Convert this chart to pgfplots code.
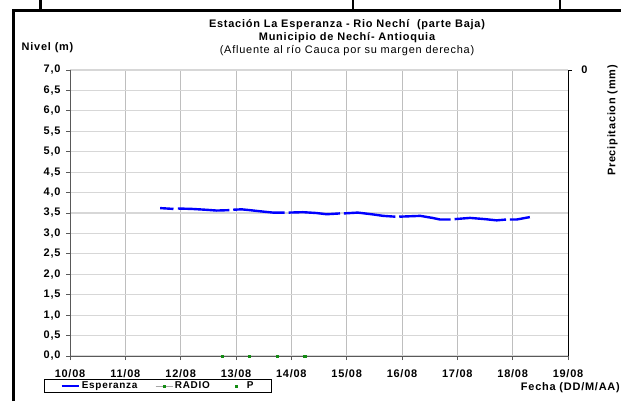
\documentclass[border=0pt]{standalone}
\usepackage{pgfplots}
\pgfplotsset{compat=1.18}
\usepackage{fontspec}
\setmainfont[LetterSpace=7]{Liberation Sans}
\definecolor{gridx}{RGB}{190,190,190}
\definecolor{gridy}{RGB}{215,215,215}
\definecolor{pgreen}{RGB}{20,140,20}
\newcommand\lbl{\fontsize{11}{12}\selectfont\bfseries}
\newcommand\lbn{\fontsize{11}{12}\selectfont}
\begin{document}
\begin{tikzpicture}[x=1bp,y=1bp]
\path[use as bounding box] (0,0) rectangle (621,401);
% outer frame
\draw[line width=3bp] (13.5,0) -- (13.5,390.5) -- (621,390.5);
\draw[line width=2.2bp] (40.5,390.5) -- (40.5,401);
\draw[line width=2.2bp] (353,390.5) -- (353,401);
\draw[line width=2.2bp] (560,390.5) -- (560,401);
% titles
\node[font=\lbl] at (347,376) {Estación La Esperanza - Rio Nechí\ \ (parte Baja)};
\node[font=\lbl] at (347,363.5) {Municipio de Nechí- Antioquia};
\node[font=\lbn] at (347,350) {(Afluente al río Cauca por su margen derecha)};
\node[font=\lbl, anchor=west, inner sep=0pt] at (21.5,353) {Nivel (m)};
\node[font=\lbl, rotate=90] at (612.5,280.5) {Precipitacion (mm)};
\node[font=\lbl, anchor=east, inner sep=0pt] at (620,13) {Fecha (DD/M/AA)};
\node[font=\lbl, inner sep=0pt] at (584.5,331) {0};

\begin{axis}[
  at={(70bp,45bp)}, anchor=south west,
  scale only axis, width=498bp, height=286bp,
  xmin=10, xmax=19, ymin=0, ymax=7,
  xtick={10,...,19},
  xticklabels={10/08,11/08,12/08,13/08,14/08,15/08,16/08,17/08,18/08,19/08},
  ytick={0,0.5,...,7},
  ticklabel style={font=\lbl},
  xticklabel style={yshift=-6bp},
  yticklabel style={xshift=-2bp, /pgf/number format/.cd, fixed, fixed zerofill, precision=1, use comma, assume math mode=true},
  axis x line*=bottom, axis y line*=left,
  axis line style={-, draw=black!65, line width=0.9bp},
  tick align=outside, major tick length=4bp,
  tick style={draw=black!65, line width=0.8bp},
  xmajorgrids, ymajorgrids,
  x grid style={gridx, line width=0.9bp},
  y grid style={gridy, line width=1.1bp},
  clip=false,
  unbounded coords=jump,
  legend columns=3,
  legend style={at={(-0.052,-0.0804)}, anchor=north west, draw=black, line width=0.8bp,
    font=\fontsize{10}{11}\selectfont\bfseries, inner xsep=16bp, inner ysep=0.5bp,
    /tikz/every even column/.append style={column sep=16bp}},
  legend cell align=left,
]
\addplot[blue, line width=2.4bp] coordinates {
 (11.63,3.62) (11.75,3.61) (11.87,3.60)
 (11.91,nan)
 (11.95,3.61) (12.2,3.60) (12.45,3.58) (12.65,3.56) (12.88,3.57)
 (12.91,nan)
 (12.95,3.58) (13.1,3.59) (13.25,3.57) (13.45,3.54) (13.67,3.51) (13.88,3.51)
 (13.91,nan)
 (13.95,3.51) (14.21,3.52) (14.45,3.50) (14.64,3.47) (14.88,3.49)
 (14.91,nan)
 (14.95,3.49) (15.2,3.51) (15.45,3.47) (15.66,3.43) (15.88,3.41)
 (15.91,nan)
 (15.95,3.41) (16.33,3.43) (16.55,3.38) (16.69,3.34) (16.88,3.34)
 (16.91,nan)
 (16.95,3.35) (17.23,3.38) (17.5,3.35) (17.71,3.32) (17.88,3.34)
 (17.91,nan)
 (17.95,3.34) (18.07,3.34) (18.31,3.40)
};
\addlegendentry{Esperanza}
\addlegendimage{gray!70, line width=0.6bp, mark=square*, mark size=1bp, mark options={draw=pgreen, fill=pgreen}}
\addlegendentry{RADIO}
\addplot[only marks, mark=square*, mark size=1.1bp, color=pgreen,
  legend image code/.code={\path[draw=none] (0cm,0cm) -- (0.6cm,0cm);
    \path[draw=none] plot[mark=square*, mark size=1.1bp, mark options={draw=pgreen, fill=pgreen}] coordinates {(0.3cm,0cm)};}] coordinates {
 (12.75,0) (13.24,0) (13.74,0) (14.24,0)
};
\addlegendentry{P}
\end{axis}

\begin{axis}[
  at={(70bp,45bp)}, anchor=south west,
  scale only axis, width=498bp, height=286bp,
  xmin=10, xmax=19, ymin=0, ymax=1,
  y dir=reverse,
  axis x line=none, axis y line*=right,
  axis line style={-, draw=black, line width=0.9bp},
  ytick={0}, yticklabels={},
  tick align=outside, major tick length=4bp,
  tick style={draw=black, line width=0.8bp},
]
\addplot[draw=none] coordinates {(10,0)};
\end{axis}
\end{tikzpicture}
\end{document}
